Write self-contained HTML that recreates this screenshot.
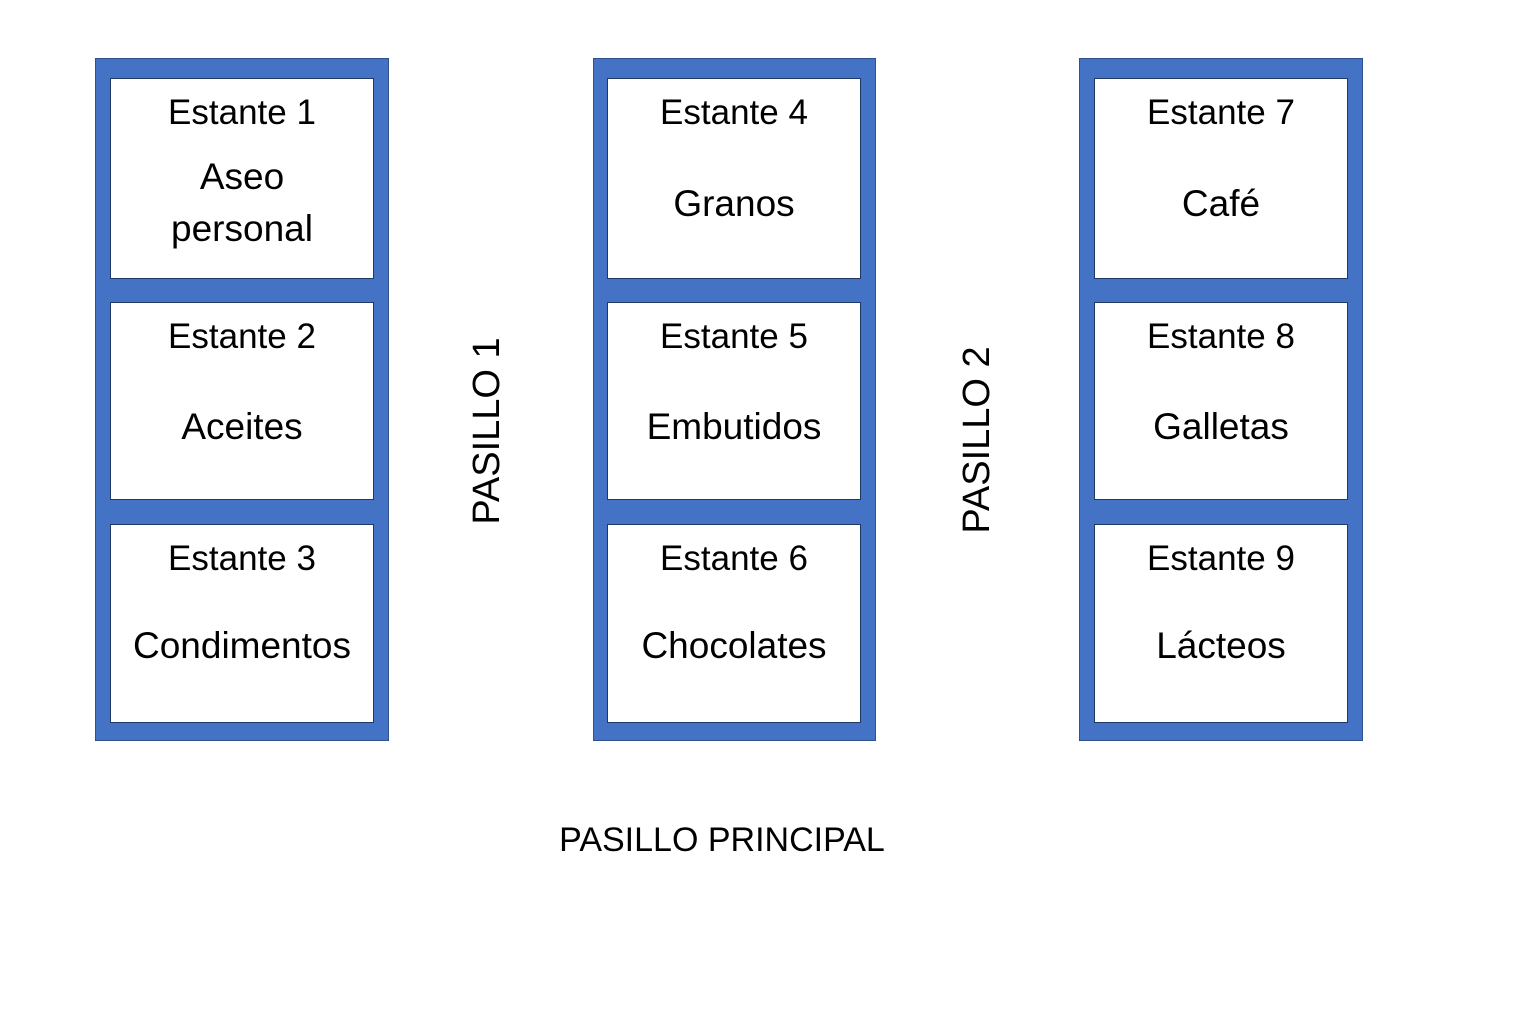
<!DOCTYPE html>
<html><head><meta charset="utf-8"><style>
body{margin:0;width:1536px;height:1024px;background:#fff;position:relative;overflow:hidden;font-family:"Liberation Sans",sans-serif;color:#000}
.col{position:absolute;background:#4472C4;border:1.5px solid #2F528F;box-sizing:border-box}
.box{position:absolute;background:#fff;border:1.5px solid #1F3864;box-sizing:border-box}
.t{position:absolute;left:0;right:0;text-align:center;white-space:nowrap}
.h{font-size:35px;line-height:40px;top:14px}
.c{font-size:37px;line-height:50px}
.v{position:absolute;font-size:38px;white-space:nowrap;transform:translate(-50%,-50%) rotate(-90deg);line-height:40px}
</style></head><body>
<div class="col" style="left:95px;top:58px;width:294px;height:683px"></div>
<div class="col" style="left:593px;top:58px;width:283px;height:683px"></div>
<div class="col" style="left:1079px;top:58px;width:284px;height:683px"></div>

<div class="box" style="left:110px;top:78px;width:264px;height:201px"><div class="t h">Estante 1</div><div class="t c" style="top:73px">Aseo</div><div class="t c" style="top:125px">personal</div></div>
<div class="box" style="left:110px;top:302px;width:264px;height:198px"><div class="t h">Estante 2</div><div class="t c" style="top:99px">Aceites</div></div>
<div class="box" style="left:110px;top:524px;width:264px;height:199px"><div class="t h">Estante 3</div><div class="t c" style="top:96px">Condimentos</div></div>

<div class="box" style="left:607px;top:78px;width:254px;height:201px"><div class="t h">Estante 4</div><div class="t c" style="top:100px">Granos</div></div>
<div class="box" style="left:607px;top:302px;width:254px;height:198px"><div class="t h">Estante 5</div><div class="t c" style="top:99px">Embutidos</div></div>
<div class="box" style="left:607px;top:524px;width:254px;height:199px"><div class="t h">Estante 6</div><div class="t c" style="top:96px">Chocolates</div></div>

<div class="box" style="left:1094px;top:78px;width:254px;height:201px"><div class="t h">Estante 7</div><div class="t c" style="top:100px">Café</div></div>
<div class="box" style="left:1094px;top:302px;width:254px;height:198px"><div class="t h">Estante 8</div><div class="t c" style="top:99px">Galletas</div></div>
<div class="box" style="left:1094px;top:524px;width:254px;height:199px"><div class="t h">Estante 9</div><div class="t c" style="top:96px">Lácteos</div></div>

<div class="v" style="left:487px;top:431px">PASILLO 1</div>
<div class="v" style="left:977px;top:440px">PASILLO 2</div>
<div style="position:absolute;left:522px;width:400px;top:818px;text-align:center;font-size:34px;line-height:44px">PASILLO PRINCIPAL</div>
</body></html>
